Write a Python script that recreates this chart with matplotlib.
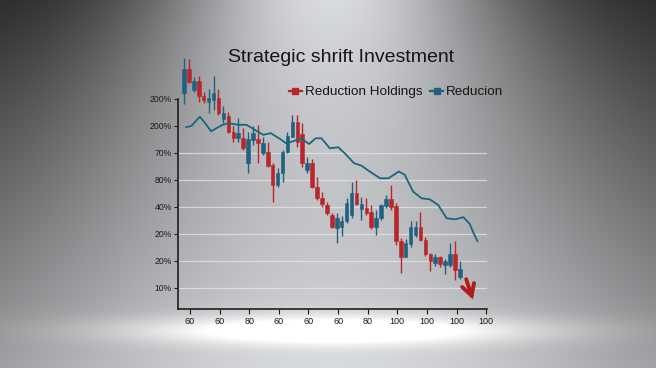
import numpy as np
import matplotlib

matplotlib.use("Agg")
import matplotlib.pyplot as plt  # noqa: E402
from matplotlib.lines import Line2D  # noqa: E402

plt.rcParams["font.family"] = ["Liberation Sans", "DejaVu Sans"]

# candle data (y in tick-index units: 0 -> "10%", 7 -> top "200%")
OPEN = [7.23, 8.11, 7.33, 7.67, 7.11, 6.90, 6.96, 7.02, 6.25, 6.35,
        5.79, 5.54, 5.57, 4.62, 5.48, 5.51, 5.01, 5.05, 4.56, 3.81,
        4.25, 5.05, 5.60, 6.16, 5.70, 4.35, 4.62, 3.75, 3.32, 3.07,
        2.70, 2.23, 2.27, 2.46, 2.70, 3.51, 2.91, 2.95, 2.80, 2.27,
        2.58, 3.04, 3.28, 3.04, 1.72, 1.16, 1.63, 1.96, 2.27, 1.78,
        1.26, 0.94, 1.14, 0.85, 0.85, 1.26, 0.42]
CLOSE = [8.11, 7.64, 7.67, 7.09, 6.96, 7.05, 7.21, 6.47, 6.49, 5.79,
         5.54, 5.73, 5.17, 5.51, 5.75, 5.38, 5.38, 4.53, 3.81, 4.25,
         5.05, 5.63, 6.16, 5.42, 4.62, 4.62, 3.75, 3.32, 3.11, 2.77,
         2.27, 2.58, 2.46, 3.14, 3.53, 3.11, 3.10, 2.79, 2.27, 2.58,
         3.07, 3.28, 3.01, 1.72, 1.16, 1.68, 2.27, 2.27, 1.78, 1.26,
         1.01, 1.16, 0.89, 1.01, 1.26, 0.67, 0.69]
HIGH = [8.51, 8.48, 7.80, 7.85, 7.27, 7.36, 7.85, 7.36, 6.72, 6.53,
        5.98, 6.28, 5.91, 5.79, 6.00, 6.04, 5.60, 5.42, 4.64, 4.43,
        5.11, 5.79, 6.41, 6.41, 6.10, 4.86, 4.77, 4.12, 3.57, 3.20,
        2.77, 2.77, 2.67, 3.32, 3.94, 4.00, 3.38, 3.32, 3.07, 2.89,
        3.11, 3.44, 3.81, 3.14, 1.84, 1.80, 2.49, 2.49, 2.81, 1.88,
        1.31, 1.26, 1.19, 1.06, 1.68, 1.75, 0.98]
LOW = [6.81, 7.58, 7.27, 6.90, 6.84, 6.49, 6.59, 6.41, 6.10, 5.73,
       5.42, 5.42, 5.11, 4.27, 5.30, 4.64, 4.93, 4.49, 3.20, 3.75,
       3.94, 4.99, 5.58, 5.23, 4.49, 4.27, 3.69, 3.26, 3.01, 2.70,
       2.21, 1.65, 1.93, 2.40, 2.58, 3.07, 2.52, 2.70, 2.17, 1.96,
       2.52, 2.95, 2.89, 1.59, 0.54, 1.14, 1.53, 1.88, 1.72, 1.19,
       0.64, 0.81, 0.79, 0.51, 0.79, 0.30, 0.32]

# "Reducion" line
LINE_X = [0.4, 1.5, 3.2, 4.3, 5.5, 7.6, 8.9, 11.0, 12.7, 14.4,
          16.1, 17.6, 19.3, 20.7, 22.0, 23.7, 25.4, 26.7, 27.9, 29.6,
          31.3, 32.6, 34.5, 36.0, 37.7, 39.8, 41.5, 43.6, 44.8, 46.5,
          48.2, 49.9, 51.6, 53.3, 55.0, 56.7, 58.0, 58.8, 59.6]
LINE_Y = [5.95, 6.00, 6.34, 6.10, 5.80, 6.02, 6.10, 6.04, 6.04, 5.85,
          5.67, 5.73, 5.54, 5.36, 5.42, 5.54, 5.33, 5.54, 5.54, 5.17,
          5.21, 4.99, 4.62, 4.53, 4.31, 4.06, 4.06, 4.31, 4.19, 3.57,
          3.32, 3.28, 3.07, 2.58, 2.54, 2.62, 2.37, 2.02, 1.72]

Y_LABELS = ["10%", "20%", "20%", "40%", "80%", "70%", "200%", "200%"]
X_LABELS = ["60", "60", "80", "60", "60", "60", "80", "100", "100", "100", "100"]

RED = "#b9262a"
BLUE = "#21607f"
TEAL = "#17687a"

W, H = 656, 368
fig = plt.figure(figsize=(W / 100, H / 100), dpi=100)

# spotlight background
bg = fig.add_axes([0, 0, 1, 1], zorder=-10)
xx, yy = np.meshgrid(np.arange(W), np.arange(H))
t = yy / H
dark = 40 + 75 * t
light = 220 - 28 * np.sin(np.pi * t * 0.9) + 8 * t
width = 180 + 190 * t
val = dark + (light - dark) * np.exp(-((xx - 330) / width) ** 2)
glow = 85 * np.exp(-((xx - 335) / 210) ** 2 - ((yy - 330) / 14) ** 2)
img = np.zeros((H, W, 3))
img[..., 0] = val * 0.985 + glow
img[..., 1] = val * 0.995 + glow * 0.97
img[..., 2] = val * 1.01 + glow * 0.9
bg.imshow(np.clip(img, 0, 255).astype(np.uint8), aspect="auto")
bg.axis("off")

ax = fig.add_axes([178 / W, 1 - 309 / H, 309 / W, 249 / H])
ax.set_facecolor("none")

x = np.arange(len(OPEN))
o = np.array(OPEN)
c = np.array(CLOSE)
colors = [RED if cc < oo else BLUE for oo, cc in zip(o, c)]
ax.vlines(x, LOW, HIGH, colors=colors, linewidth=1.0, zorder=3, clip_on=False)
ax.bar(x, np.abs(c - o), bottom=np.minimum(o, c), width=0.72, color=colors,
       edgecolor=colors, linewidth=0.4, zorder=4, clip_on=False)

ax.plot(LINE_X, LINE_Y, color=TEAL, linewidth=1.3, zorder=5,
        solid_joinstyle="round", solid_capstyle="round")

for v in range(6):
    ax.axhline(v, color="#e6e6e6", linewidth=0.9, alpha=0.75, zorder=1)

ax.set_xlim(-1.22, 61.5)
ax.set_ylim(-0.78, 8.44)
ax.set_yticks(range(len(Y_LABELS)))
ax.set_yticklabels(Y_LABELS)
ax.set_xticks(1.22 + 6.01 * np.arange(len(X_LABELS)))
ax.set_xticklabels(X_LABELS)
ax.tick_params(axis="y", length=3, width=0.8, pad=1.5, labelsize=6.2, colors="#1a1a1a")
ax.tick_params(axis="x", length=3.5, width=0.8, pad=2, labelsize=6.5, colors="#1a1a1a")

for side in ["top", "right"]:
    ax.spines[side].set_visible(False)
ax.spines["left"].set_bounds(-0.78, 7.0)
for side in ["left", "bottom"]:
    ax.spines[side].set_color("#1e1e1e")
    ax.spines[side].set_linewidth(1.2)

ax.annotate("", xy=(58.8, -0.52), xytext=(57.1, 0.42), annotation_clip=False,
            arrowprops=dict(arrowstyle="->,head_length=0.8,head_width=0.45",
                            color="#b01c1c", lw=2.8, capstyle="round",
                            joinstyle="miter"), zorder=6)

fig.text(341 / W, 1 - 57 / H, "Strategic shrift Investment", ha="center",
         va="center", fontsize=14, color="#151515")

handles = [
    Line2D([], [], color=RED, marker="s", markersize=4, linewidth=1.6),
    Line2D([], [], color=BLUE, marker="s", markersize=4, linewidth=1.6),
]
fig.legend(handles, ["Reduction Holdings", "Reducion"], loc="center left",
           bbox_to_anchor=(289 / W, 1 - 92 / H), ncol=2, frameon=False,
           fontsize=9.7, handlelength=0.95, handletextpad=0.25,
           columnspacing=0.55, borderpad=0, borderaxespad=0, labelcolor="#151515")

fig.savefig("out.png", dpi=100)
